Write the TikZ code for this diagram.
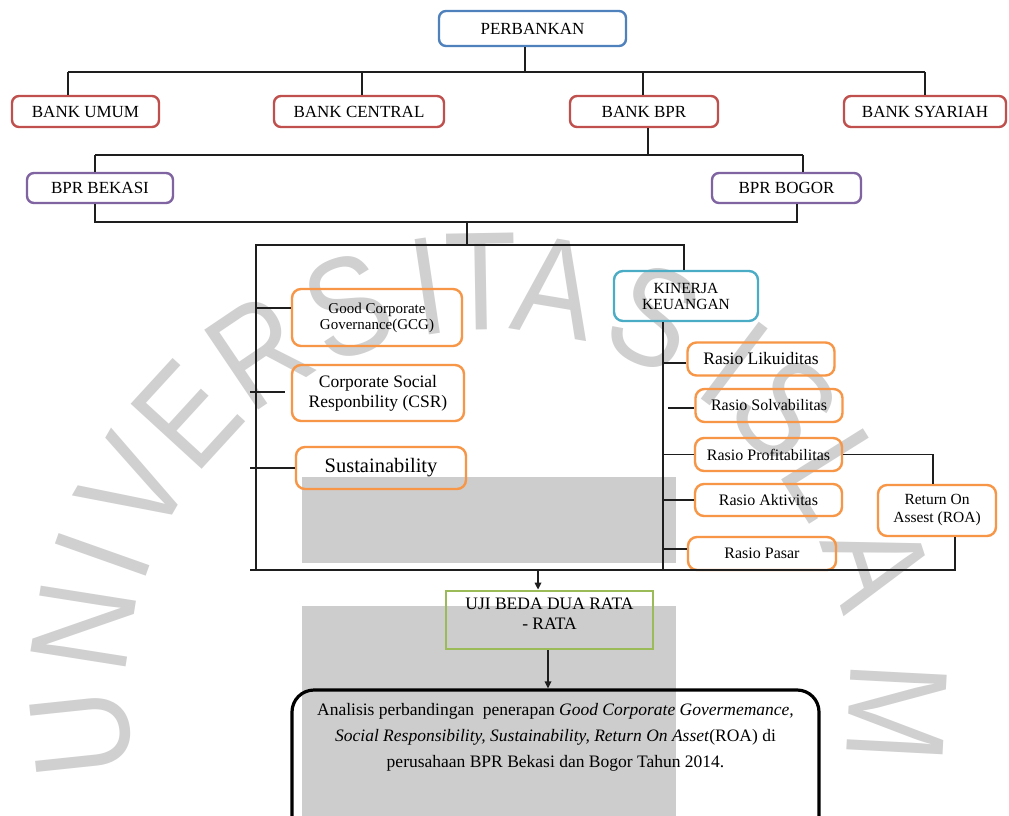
\documentclass[tikz,border=0pt]{standalone}
\usepackage{fontspec}
\setmainfont{Liberation Serif}
\newfontfamily\wmfont[FakeStretch=0.85]{Liberation Sans}
\usetikzlibrary{arrows.meta,calc}
\definecolor{cblue}{HTML}{4F81BD}
\definecolor{cred}{HTML}{C0504D}
\definecolor{cpurple}{HTML}{8064A2}
\definecolor{ccyan}{HTML}{4BACC6}
\definecolor{corange}{HTML}{F79646}
\definecolor{cgreen}{HTML}{9BBB59}
\definecolor{wmgray}{RGB}{208,208,208}
\definecolor{rectgray}{RGB}{205,205,205}
\definecolor{linec}{RGB}{30,30,30}
\begin{document}
\begin{tikzpicture}[x=1pt,y=-1pt,
  conn/.style={line width=1.6pt, draw=linec},
  arr/.style={conn, -{Triangle[length=7pt,width=6.5pt]}},
  box/.style={draw, line width=2.4pt, rounded corners=7pt, inner sep=0pt, align=center},
  topbox/.style={box, font=\fontsize{17}{20}\selectfont},
  redbox/.style={topbox, draw=cred, minimum height=31pt},
  purplebox/.style={topbox, draw=cpurple, minimum height=30pt},
  orangebox/.style={box, draw=corange, rounded corners=9pt},
  rasiobox/.style={orangebox, minimum width=147pt, minimum height=33pt, font=\fontsize{16}{19}\selectfont},
  wm/.style={font=\wmfont\fontsize{140}{140}\selectfont, text=wmgray, inner sep=0pt, anchor=base},
  gray rect/.style={fill=rectgray}
]
\useasboundingbox (0,0) rectangle (1009,816);
\fill[white] (0,0) rectangle (1009,816);

% watermark letters
\coordinate (wc) at (488,691);
\foreach \ch/\ang [count=\i] in {U/186,N/171,I/160.5,V/150,E/137.5,R/124,S/110,I/98.5,T/91,A/80.5,S/66,I/53,S/43.5,L/32,A/18,M/357}
  \node[wm, rotate=\ang-90] (wm\i) at ($(wc)+(-\ang:361)$) {\ch};

% grey patches
\fill[gray rect] (302,477) rectangle (676,563);
\fill[gray rect] (302,606) rectangle (676,830);

% nodes
\node[topbox, draw=cblue, minimum width=187pt, minimum height=35pt] (perb) at (532.5,28.5) {PERBANKAN};
\node[redbox, minimum width=147pt] (umum) at (85.5,111.5) {BANK UMUM};
\node[redbox, minimum width=170pt] (central) at (359,111.5) {BANK CENTRAL};
\node[redbox, minimum width=148pt] (bpr) at (644,111.5) {BANK BPR};
\node[redbox, minimum width=162pt] (syariah) at (925,111.5) {BANK SYARIAH};
\node[purplebox, minimum width=146pt] (bekasi) at (100,188) {BPR BEKASI};
\node[purplebox, minimum width=149pt] (bogor) at (786.5,188) {BPR BOGOR};

\node[orangebox, minimum width=170pt, minimum height=57pt, font=\fontsize{15}{17}\selectfont] (gcg) at (377,317.5) {Good Corporate\\[-1pt]Governance(GCG)};
\node[orangebox, minimum width=172pt, minimum height=56pt, font=\fontsize{17.5}{20}\selectfont] (csr) at (378,393) {Corporate Social\\Responbility (CSR)};
\node[orangebox, minimum width=170pt, minimum height=42pt, font=\fontsize{20.5}{22}\selectfont] (sust) at (381,468) {Sustainability};

\node[box, draw=ccyan, rounded corners=9pt, minimum width=144pt, minimum height=50pt, font=\fontsize{15.5}{16}\selectfont] (kin) at (686,296) {KINERJA\\KEUANGAN};
\node[rasiobox, font=\fontsize{17.5}{19}\selectfont] (lik) at (761,359) {Rasio Likuiditas};
\node[rasiobox] (solv) at (769,405.5) {Rasio Solvabilitas};
\node[rasiobox] (prof) at (768.5,454.5) {Rasio Profitabilitas};
\node[rasiobox, minimum height=32pt] (akt) at (768.5,500) {Rasio Aktivitas};
\node[rasiobox, minimum width=148pt] (pasar) at (762,553.5) {Rasio Pasar};
\node[orangebox, minimum width=118pt, minimum height=51pt, font=\fontsize{15.5}{18}\selectfont] (roa) at (937,510.5) {Return On\\Assest (ROA)};

\node[draw=cgreen, line width=2.8pt, minimum width=207pt, minimum height=58pt, inner sep=0pt] (uji) at (549.5,620) {};
\node[anchor=north, inner sep=0pt, align=center, font=\fontsize{17.5}{20}\selectfont] (ujit) at ([yshift=-8pt]uji.north) {UJI BEDA DUA RATA\\- RATA};

\node[draw=black, line width=3.2pt, rounded corners=22pt, minimum width=527pt, minimum height=150pt, inner sep=0pt] (final) at (555.5,765) {};
\node[anchor=north, inner sep=0pt, align=center, font=\fontsize{17.5}{26}\selectfont] (finalt) at ([yshift=-15pt]final.north)
  {Analisis perbandingan~ penerapan \textit{Good Corporate Govermemance,}\\
   \textit{Social Responsibility, Sustainability, Return On Asset}(ROA) di\\
   perusahaan BPR Bekasi dan Bogor Tahun 2014.};

% connectors: level 1
\coordinate (pd) at (525,72);
\coordinate (aL) at (68,72);
\coordinate (aC) at (362,72);
\coordinate (aB) at (643,72);
\coordinate (aR) at (925,72);
\draw[conn] (pd |- perb.south) -- (pd);
\draw[conn] (aL) -- (aR);
\draw[conn] (aL) -- (aL |- umum.north);
\draw[conn] (aC) -- (aC |- central.north);
\draw[conn] (aB) -- (aB |- bpr.north);
\draw[conn] (aR) -- (aR |- syariah.north);

% level 2
\coordinate (bd) at (648,155);
\coordinate (bL) at (95,155);
\coordinate (bR) at (803,155);
\draw[conn] (bd |- bpr.south) -- (bd);
\draw[conn] (bL) -- (bR);
\draw[conn] (bL) -- (bL |- bekasi.north);
\draw[conn] (bR) -- (bR |- bogor.north);

% level 3
\coordinate (cL) at (95,222);
\coordinate (cR) at (797,222);
\coordinate (cd) at (467,222);
\coordinate (dL) at (256,245);
\coordinate (dR) at (684,245);
\coordinate (eL) at (250,570);
\coordinate (eR) at (955,570);
\draw[conn] (cL |- bekasi.south) -- (cL) -- (cR) -- (cR |- bogor.south);
\draw[conn] (cd) -- (cd |- dL);
\draw[conn] (dR |- kin.north) -- (dR) -- (dL) -- (dL |- eL);
\draw[conn] (eL) -- (eR) -- (eR |- roa.south);

% left ticks
\coordinate (gt) at ([yshift=9.5pt]gcg.west);
\draw[conn] (gt) -- (gt -| dL);
\coordinate (ct1) at (250,392);
\coordinate (ct2) at (285,392);
\draw[conn] (ct1) -- (ct2);
\draw[conn] (sust.west) -- (sust.west -| eL);

% right ticks
\coordinate (kv) at (663,570);
\draw[conn] (kv |- kin.south) -- (kv);
\coordinate (lt) at ([yshift=-4pt]lik.west);
\draw[conn] (lt) -- (lt -| kv);
\coordinate (sv) at (668,408);
\draw[conn] (sv) -- (solv.west |- sv);
\draw[conn] (prof.west) -- (prof.west -| kv);
\draw[conn] (akt.west) -- (akt.west -| kv);
\coordinate (pt) at ([yshift=4.5pt]pasar.west);
\draw[conn] (pt) -- (pt -| kv);
\coordinate (rc) at (933,455);
\draw[conn] (prof.east) -- (prof.east -| rc) -- (rc |- roa.north);

% arrows
\coordinate (a1) at (538,570);
\draw[arr] (a1) -- (a1 |- uji.north);
\coordinate (a2) at (548,650);
\draw[arr] (a2 |- uji.south) -- (a2 |- final.north);
\end{tikzpicture}
\end{document}
